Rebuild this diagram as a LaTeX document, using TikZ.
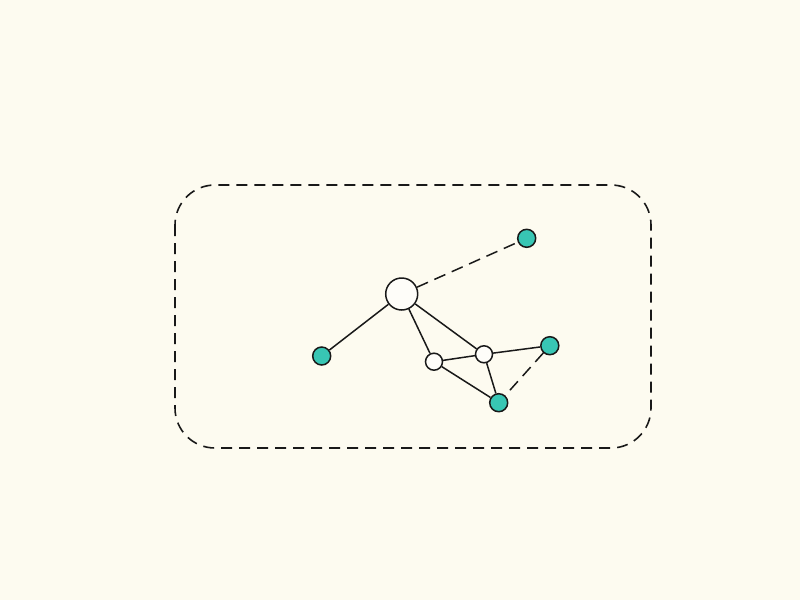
\documentclass[tikz,border=0pt]{standalone}
\begin{document}
\begin{tikzpicture}[x=1pt,y=-1pt,
  every node/.style={circle,draw=black!90,line width=1.5pt,inner sep=0pt},
  hub/.style={fill=white!60!bgc,minimum size=32pt},
  mid/.style={fill=white!60!bgc,minimum size=17pt},
  leaf/.style={fill=tealc,minimum size=18pt},
  edge/.style={draw=black!90,line width=1.5pt},
  dedge/.style={edge,dash pattern=on 12pt off 7pt},
  frame/.style={draw=black!90,line width=1.6pt,dash pattern=on 11pt off 7pt,rounded corners=40pt}]
\definecolor{bgc}{HTML}{FDFBF0}
\definecolor{tealc}{HTML}{38C6B4}
\fill[bgc] (0,0) rectangle (800,600);
\useasboundingbox (0,0) rectangle (800,600);
\draw[frame] (175,185) rectangle (651,448);
\node[hub] (h) at (401.7,294) {};
\node[leaf] (tr) at (526.7,238.3) {};
\node[leaf] (l) at (321.7,356) {};
\node[mid] (m1) at (434,361.7) {};
\node[mid] (m2) at (484,354.3) {};
\node[leaf] (r) at (549.8,345.7) {};
\node[leaf] (b) at (498.7,402.7) {};
\draw[dedge] (h) -- (tr);
\draw[edge] (h) -- (l);
\draw[edge] (h) -- (m1);
\draw[edge] (h) -- (m2);
\draw[edge] (m1) -- (m2);
\draw[edge] (m2) -- (r);
\draw[edge] (m1) -- (b);
\draw[edge] (m2) -- (b);
\draw[dedge] (r) -- (b);
\end{tikzpicture}
\end{document}
